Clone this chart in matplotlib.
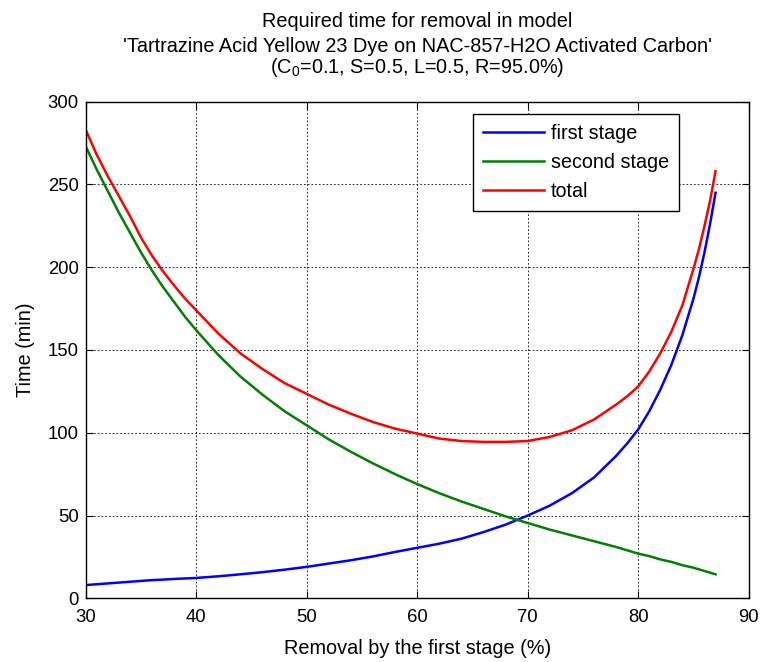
import matplotlib
matplotlib.use('Agg')
import matplotlib.pyplot as plt

# 데이터
removal = [30, 31, 32, 33, 34, 35, 36, 37, 38, 39, 40, 42, 44, 46, 48, 50, 52, 54, 56, 58,
           60, 62, 64, 66, 68, 70, 72, 74, 76, 78, 79, 80, 81, 82, 83, 84, 85, 85.5, 86, 86.5, 87]

first_stage = [8, 8.5, 9, 9.5, 10, 10.5, 11, 11.3, 11.7, 12, 12.3, 13.3, 14.5, 15.8, 17.3, 19, 21, 23, 25.3, 28,
               30.5, 33, 36, 40, 44.5, 50, 56, 63.5, 73, 86, 93.5, 102, 113, 126, 141, 159, 181, 194, 209, 226, 245]

second_stage = [273, 259, 246, 233, 221, 209, 198, 188, 179, 170, 162, 147, 134, 123, 113, 104.5, 96, 88.5, 81.5, 75,
                69, 63.5, 58.5, 54, 49.5, 45.5, 41.5, 38, 34.5, 31, 29, 27, 25.5, 23.5, 22, 20, 18.5, 17.5, 16.5, 15.5, 14.5]

total = [283, 268, 255, 243, 231, 218, 207, 197.5, 189, 181, 174, 160, 148, 138.5, 130, 123.5, 117, 111.5, 106.5, 102.5,
         99.5, 96.5, 95, 94.5, 94.5, 95, 97.5, 101.5, 108, 117, 122, 128, 137, 148, 161, 177, 199, 211, 225, 240, 258]

plt.rcParams['font.family'] = ['Liberation Sans', 'DejaVu Sans']
plt.rcParams['mathtext.default'] = 'regular'

fig = plt.figure(figsize=(7.72, 6.62), dpi=100)
ax = fig.add_axes([0.111, 0.0962, 0.8588, 0.7502])

ax.plot(removal, first_stage, color='#0000ff', lw=1.8, label='first stage')
ax.plot(removal, second_stage, color='#008000', lw=1.8, label='second stage')
ax.plot(removal, total, color='#ff0000', lw=1.8, label='total')

ax.set_xlim(30, 90)
ax.set_ylim(0, 300)
ax.set_xticks(range(30, 91, 10))
ax.set_yticks(range(0, 301, 50))
ax.tick_params(direction='in', top=True, right=True, labelsize=13.3, length=5, width=0.8)
ax.tick_params(axis='x', pad=8)
ax.tick_params(axis='y', pad=5)
ax.grid(True, color='black', linestyle=(0, (2, 2.5)), linewidth=0.6)
for s in ax.spines.values():
    s.set_linewidth(1.0)

ax.set_xlabel('Removal by the first stage (%)', fontsize=14.3, labelpad=9)
ax.set_ylabel('Time (min)', fontsize=14.3, labelpad=9)

# 제목 (세 줄)
cx = 0.111 + 0.8588 / 2
fig.text(cx, 1 - 27.3 / 662, 'Required time for removal in model', ha='center', va='baseline', fontsize=14.3)
fig.text(cx, 1 - 51.7 / 662, "'Tartrazine Acid Yellow 23 Dye on NAC-857-H2O Activated Carbon'",
         ha='center', va='baseline', fontsize=14.3)
fig.text(cx, 1 - 73.3 / 662, '(C$_0$=0.1, S=0.5, L=0.5, R=95.0%)', ha='center', va='baseline', fontsize=14.3)

leg = ax.legend(loc='upper left', bbox_to_anchor=(0.584, 0.975), fontsize=14.2, fancybox=False,
                framealpha=1, edgecolor='black', borderaxespad=0, handlelength=3.1,
                handletextpad=0.34, labelspacing=0.5, borderpad=0.5)
leg.get_frame().set_linewidth(1.0)

plt.savefig('out.png', dpi=100)
